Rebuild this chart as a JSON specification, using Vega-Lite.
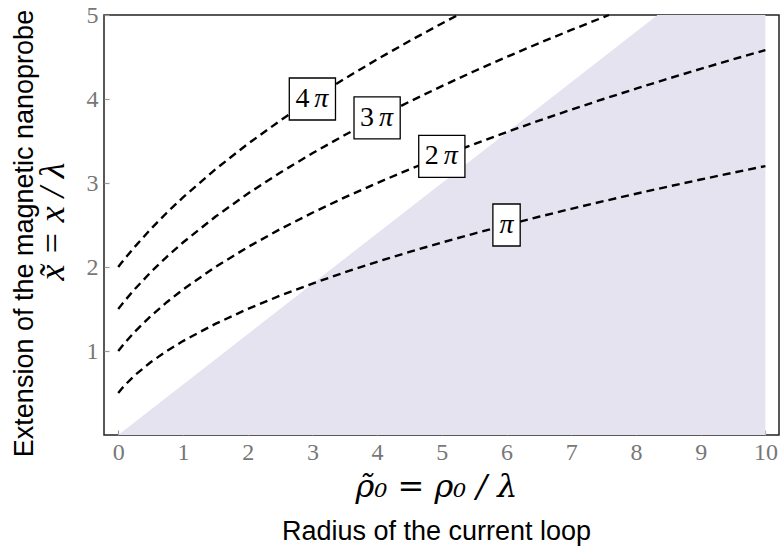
{
  "$schema": "https://vega.github.io/schema/vega-lite/v6.json",
  "width": 675,
  "height": 420,
  "autosize": {"type": "none"},
  "padding": {"left": 104, "top": 15, "right": 2, "bottom": 111},
  "background": "white",
  "title": {
    "text": "ρ̃₀ = ρ₀ / λ",
    "subtitle": "Radius of the current loop",
    "orient": "bottom",
    "anchor": "middle",
    "frame": "group",
    "dx": -5,
    "offset": 8,
    "font": "DejaVu Serif",
    "fontSize": 32,
    "fontStyle": "italic",
    "fontWeight": "normal",
    "color": "black",
    "subtitleFont": "Liberation Sans",
    "subtitleFontSize": 27,
    "subtitleColor": "black",
    "subtitlePadding": 15
  },
  "config": {
    "view": {"stroke": "#222", "strokeWidth": 1.5},
    "axis": {"grid": false, "domain": false}
  },
  "datasets": {
    "region": [
      {"x": 0, "top": 0},
      {"x": 8.333, "top": 5},
      {"x": 10, "top": 5}
    ],
    "curves": [
      {"n": 1, "x": 0, "y": 0.5}, {"n": 1, "x": 0.05, "y": 0.5477}, {"n": 1, "x": 0.1, "y": 0.5916},
      {"n": 1, "x": 0.25, "y": 0.7071}, {"n": 1, "x": 0.5, "y": 0.866}, {"n": 1, "x": 0.75, "y": 1.0},
      {"n": 1, "x": 1, "y": 1.118}, {"n": 1, "x": 1.5, "y": 1.3229}, {"n": 1, "x": 2, "y": 1.5},
      {"n": 1, "x": 2.5, "y": 1.6583}, {"n": 1, "x": 3, "y": 1.8028}, {"n": 1, "x": 3.5, "y": 1.9365},
      {"n": 1, "x": 4, "y": 2.0616}, {"n": 1, "x": 4.5, "y": 2.1794}, {"n": 1, "x": 5, "y": 2.2913},
      {"n": 1, "x": 5.5, "y": 2.3979}, {"n": 1, "x": 6, "y": 2.5}, {"n": 1, "x": 6.5, "y": 2.5981},
      {"n": 1, "x": 7, "y": 2.6926}, {"n": 1, "x": 7.5, "y": 2.7839}, {"n": 1, "x": 8, "y": 2.8723},
      {"n": 1, "x": 8.5, "y": 2.958}, {"n": 1, "x": 9, "y": 3.0414}, {"n": 1, "x": 9.5, "y": 3.1225},
      {"n": 1, "x": 10, "y": 3.2016},
      {"n": 2, "x": 0, "y": 1.0}, {"n": 2, "x": 0.05, "y": 1.0488}, {"n": 2, "x": 0.1, "y": 1.0954},
      {"n": 2, "x": 0.25, "y": 1.2247}, {"n": 2, "x": 0.5, "y": 1.4142}, {"n": 2, "x": 0.75, "y": 1.5811},
      {"n": 2, "x": 1, "y": 1.7321}, {"n": 2, "x": 1.5, "y": 2.0}, {"n": 2, "x": 2, "y": 2.2361},
      {"n": 2, "x": 2.5, "y": 2.4495}, {"n": 2, "x": 3, "y": 2.6458}, {"n": 2, "x": 3.5, "y": 2.8284},
      {"n": 2, "x": 4, "y": 3.0}, {"n": 2, "x": 4.5, "y": 3.1623}, {"n": 2, "x": 5, "y": 3.3166},
      {"n": 2, "x": 5.5, "y": 3.4641}, {"n": 2, "x": 6, "y": 3.6056}, {"n": 2, "x": 6.5, "y": 3.7417},
      {"n": 2, "x": 7, "y": 3.873}, {"n": 2, "x": 7.5, "y": 4.0}, {"n": 2, "x": 8, "y": 4.1231},
      {"n": 2, "x": 8.5, "y": 4.2426}, {"n": 2, "x": 9, "y": 4.3589}, {"n": 2, "x": 9.5, "y": 4.4721},
      {"n": 2, "x": 10, "y": 4.5826},
      {"n": 3, "x": 0, "y": 1.5}, {"n": 3, "x": 0.05, "y": 1.5492}, {"n": 3, "x": 0.1, "y": 1.5969},
      {"n": 3, "x": 0.25, "y": 1.7321}, {"n": 3, "x": 0.5, "y": 1.9365}, {"n": 3, "x": 0.75, "y": 2.1213},
      {"n": 3, "x": 1, "y": 2.2913}, {"n": 3, "x": 1.5, "y": 2.5981}, {"n": 3, "x": 2, "y": 2.8723},
      {"n": 3, "x": 2.5, "y": 3.1225}, {"n": 3, "x": 3, "y": 3.3541}, {"n": 3, "x": 3.5, "y": 3.5707},
      {"n": 3, "x": 4, "y": 3.7749}, {"n": 3, "x": 4.5, "y": 3.9686}, {"n": 3, "x": 5, "y": 4.1533},
      {"n": 3, "x": 5.5, "y": 4.3301}, {"n": 3, "x": 6, "y": 4.5}, {"n": 3, "x": 6.5, "y": 4.6637},
      {"n": 3, "x": 7, "y": 4.8218}, {"n": 3, "x": 7.5, "y": 4.9749}, {"n": 3, "x": 7.583, "y": 5.0},
      {"n": 4, "x": 0, "y": 2.0}, {"n": 4, "x": 0.05, "y": 2.0494}, {"n": 4, "x": 0.1, "y": 2.0976},
      {"n": 4, "x": 0.25, "y": 2.2361}, {"n": 4, "x": 0.5, "y": 2.4495}, {"n": 4, "x": 0.75, "y": 2.6458},
      {"n": 4, "x": 1, "y": 2.8284}, {"n": 4, "x": 1.5, "y": 3.1623}, {"n": 4, "x": 2, "y": 3.4641},
      {"n": 4, "x": 2.5, "y": 3.7417}, {"n": 4, "x": 3, "y": 4.0}, {"n": 4, "x": 3.5, "y": 4.2426},
      {"n": 4, "x": 4, "y": 4.4721}, {"n": 4, "x": 4.5, "y": 4.6904}, {"n": 4, "x": 5, "y": 4.899},
      {"n": 4, "x": 5.25, "y": 5.0}
    ],
    "labels": [
      {"label": "4 π", "num": "4", "x": 3, "y": 4.0},
      {"label": "3 π", "num": "3", "x": 4, "y": 3.775},
      {"label": "2 π", "num": "2", "x": 5, "y": 3.317},
      {"label": "π", "num": "", "x": 6, "y": 2.5}
    ]
  },
  "resolve": {"scale": {"y": "independent"}},
  "layer": [
    {
      "data": {"name": "region"},
      "mark": {"type": "area", "color": "#e5e3ef"},
      "encoding": {
        "x": {
          "field": "x", "type": "quantitative",
          "scale": {"domain": [-0.22, 10.21], "nice": false, "zero": false},
          "axis": {
            "title": null,
            "values": [0, 1, 2, 3, 4, 5, 6, 7, 8, 9, 10],
            "format": "d",
            "offset": -5,
            "labelFont": "Liberation Serif", "labelFontSize": 24, "labelColor": "#777",
            "labelFlush": false, "labelPadding": 5,
            "tickSize": 5, "tickColor": "#999", "tickWidth": 1.2
          }
        },
        "y": {
          "field": "top", "type": "quantitative",
          "scale": {"domain": [0, 5], "nice": false},
          "axis": {
            "orient": "left",
            "title": "x̃ = x / λ",
            "values": [1, 2, 3, 4, 5],
            "format": "d",
            "offset": -5,
            "labelFont": "Liberation Serif", "labelFontSize": 24, "labelColor": "#777",
            "labelPadding": 6,
            "tickSize": 5, "tickColor": "#999", "tickWidth": 1.2,
            "titleFont": "Liberation Serif", "titleFontSize": 36,
            "titleFontStyle": "italic", "titleFontWeight": "normal", "titleColor": "black",
            "titlePadding": 15, "titleY": 206
          }
        },
        "y2": {"datum": 0}
      }
    },
    {
      "layer": [
        {
          "data": {"name": "curves"},
          "mark": {"type": "line", "color": "black", "strokeWidth": 2.4, "strokeDash": [8, 5]},
          "encoding": {
            "x": {"field": "x", "type": "quantitative"},
            "y": {
              "field": "y", "type": "quantitative",
              "scale": {"domain": [0, 5], "nice": false},
              "axis": {
                "orient": "left",
                "title": "Extension of the magnetic nanoprobe",
                "labels": false, "ticks": false,
                "titleFont": "Liberation Sans", "titleFontSize": 27,
                "titleFontWeight": "normal", "titleColor": "black",
                "titlePadding": 66, "titleY": 218
              }
            },
            "detail": {"field": "n", "type": "nominal"}
          }
        },
        {
          "data": {"name": "labels"},
          "mark": {"type": "point", "filled": true, "fill": "white", "stroke": "black", "strokeWidth": 1.3, "opacity": 1, "size": 441},
          "encoding": {
            "x": {"field": "x", "type": "quantitative"},
            "y": {"field": "y", "type": "quantitative"},
            "shape": {
              "field": "label", "type": "nominal", "legend": null,
              "scale": {
                "domain": ["π", "2 π", "3 π", "4 π"],
                "range": ["M-1.3,-2H1.3V2H-1.3Z", "M-2.2,-2H2.2V2H-2.2Z", "M-2.2,-2H2.2V2H-2.2Z", "M-2.2,-2H2.2V2H-2.2Z"]
              }
            }
          }
        },
        {
          "data": {"name": "labels"},
          "transform": [{"filter": "datum.num != ''"}],
          "mark": {"type": "text", "font": "Liberation Serif", "fontSize": 28, "color": "black", "dx": -10, "baseline": "middle"},
          "encoding": {
            "x": {"field": "x", "type": "quantitative"},
            "y": {"field": "y", "type": "quantitative"},
            "text": {"field": "num"}
          }
        },
        {
          "data": {"name": "labels"},
          "transform": [{"filter": "datum.num != ''"}],
          "mark": {"type": "text", "font": "Liberation Serif", "fontSize": 28, "fontStyle": "italic", "color": "black", "dx": 9, "baseline": "middle"},
          "encoding": {
            "x": {"field": "x", "type": "quantitative"},
            "y": {"field": "y", "type": "quantitative"},
            "text": {"value": "π"}
          }
        },
        {
          "data": {"name": "labels"},
          "transform": [{"filter": "datum.num == ''"}],
          "mark": {"type": "text", "font": "Liberation Serif", "fontSize": 28, "fontStyle": "italic", "color": "black", "baseline": "middle"},
          "encoding": {
            "x": {"field": "x", "type": "quantitative"},
            "y": {"field": "y", "type": "quantitative"},
            "text": {"value": "π"}
          }
        }
      ]
    }
  ]
}
